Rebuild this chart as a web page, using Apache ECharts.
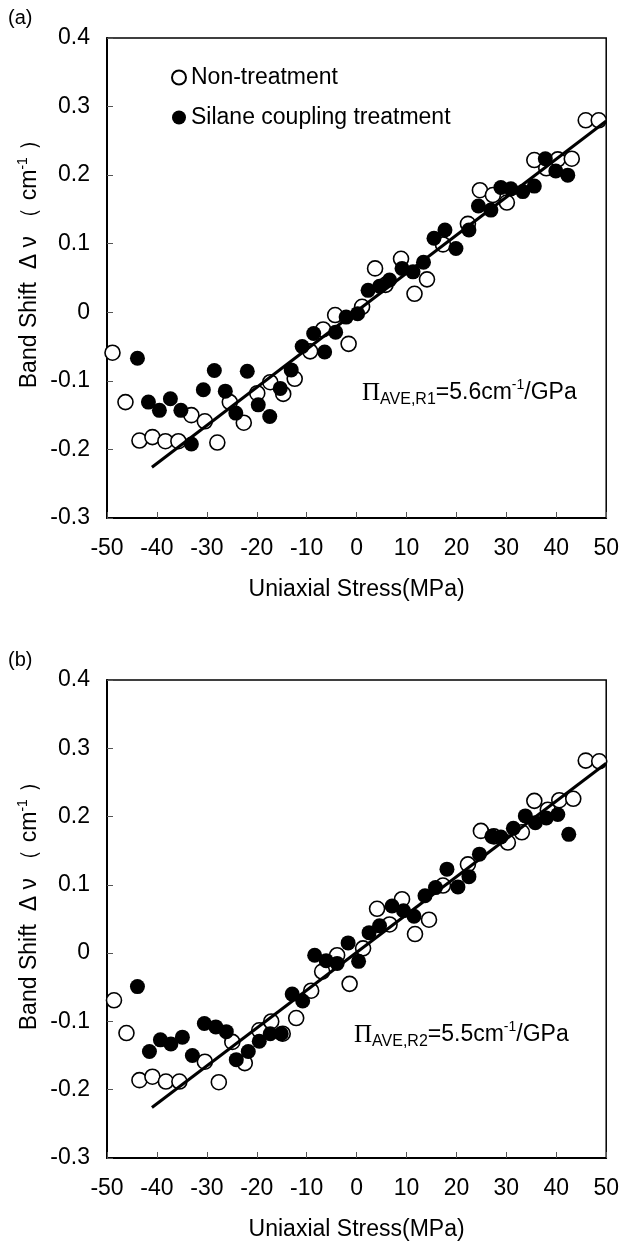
<!DOCTYPE html>
<html>
<head>
<meta charset="utf-8">
<script src="https://cdn.jsdelivr.net/npm/echarts@6/dist/echarts.min.js"></script>
<style>
html,body{margin:0;padding:0;background:#fff;}
#chart{width:622px;height:1242px;}
</style>
</head>
<body>
<div id="chart"></div>
<script>
// ---- Data ----
const xTicks = [-50, 50, 10];      // min, max, interval (MPa)
const yTicks = [-0.3, 0.4, 0.1];   // min, max, interval (cm-1)

// (a) Non-treatment (open circles)
const aOpen = [[-48.9,-0.059],[-46.3,-0.131],[-43.5,-0.187],[-40.9,-0.182],[-38.3,-0.188],[-35.7,-0.188],[-33.1,-0.150],[-30.4,-0.159],[-27.9,-0.190],[-25.4,-0.131],[-22.6,-0.161],[-19.9,-0.118],[-17.3,-0.102],[-14.7,-0.119],[-12.4,-0.097],[-9.3,-0.057],[-6.7,-0.025],[-4.3,-0.004],[-1.6,-0.046],[1.1,0.008],[3.7,0.064],[5.8,0.040],[8.9,0.078],[11.6,0.027],[14.1,0.048],[17.3,0.099],[22.3,0.129],[24.7,0.178],[27.3,0.171],[30.1,0.160],[35.6,0.222],[38.0,0.210],[40.3,0.223],[43.1,0.224],[45.9,0.280],[48.5,0.280]];
// (a) Silane coupling treatment (filled circles)
const aFilled = [[-43.9,-0.067],[-41.7,-0.131],[-39.5,-0.143],[-37.3,-0.126],[-35.2,-0.143],[-33.1,-0.192],[-30.7,-0.113],[-28.5,-0.085],[-26.3,-0.115],[-24.2,-0.147],[-21.9,-0.086],[-19.7,-0.135],[-17.4,-0.152],[-15.3,-0.111],[-13.1,-0.084],[-10.9,-0.050],[-8.6,-0.031],[-6.4,-0.058],[-4.2,-0.029],[-2.1,-0.007],[0.2,-0.002],[2.3,0.032],[4.6,0.038],[6.6,0.047],[9.1,0.064],[11.3,0.059],[13.4,0.073],[15.5,0.108],[17.7,0.120],[19.9,0.093],[22.5,0.120],[24.4,0.155],[26.9,0.149],[28.9,0.182],[30.9,0.180],[33.3,0.176],[35.6,0.184],[37.8,0.224],[39.9,0.206],[42.3,0.200]];
// (a) fit line end points
const aFit = [[-41,-0.226],[50,0.279]];

// (b) Non-treatment (open circles)
const bOpen = [[-48.6,-0.069],[-46.1,-0.117],[-43.5,-0.186],[-40.9,-0.181],[-38.2,-0.188],[-35.5,-0.188],[-30.4,-0.159],[-27.6,-0.189],[-24.9,-0.130],[-22.4,-0.161],[-19.5,-0.113],[-17.1,-0.100],[-14.8,-0.118],[-12.1,-0.095],[-9.1,-0.055],[-6.9,-0.027],[-3.9,-0.003],[-1.4,-0.045],[1.3,0.007],[4.1,0.065],[6.6,0.042],[9.1,0.079],[11.7,0.028],[14.5,0.049],[17.3,0.099],[22.3,0.130],[24.9,0.179],[27.5,0.171],[30.3,0.162],[33.1,0.177],[35.6,0.223],[38.3,0.210],[40.6,0.224],[43.4,0.226],[45.9,0.282],[48.6,0.281]];
// (b) Silane coupling treatment (filled circles)
const bFilled = [[-43.9,-0.049],[-41.5,-0.144],[-39.3,-0.127],[-37.2,-0.133],[-34.9,-0.123],[-32.9,-0.150],[-30.5,-0.103],[-28.2,-0.108],[-26.1,-0.115],[-24.1,-0.156],[-21.7,-0.144],[-19.5,-0.129],[-17.3,-0.118],[-15.1,-0.118],[-12.9,-0.060],[-10.8,-0.070],[-8.4,-0.003],[-6.1,-0.011],[-3.9,-0.015],[-1.7,0.015],[0.4,-0.012],[2.5,0.030],[4.6,0.040],[7.1,0.069],[9.4,0.062],[11.5,0.054],[13.7,0.084],[15.8,0.096],[18.1,0.123],[20.3,0.097],[22.5,0.112],[24.6,0.145],[27.1,0.171],[28.9,0.170],[31.4,0.183],[33.8,0.201],[35.8,0.191],[38.0,0.198],[40.3,0.203],[42.5,0.174]];
// (b) fit line end points
const bFit = [[-41,-0.226],[50,0.278]];

const seriesNames = ['Non-treatment', 'Silane coupling treatment'];
const xName = 'Uniaxial Stress(MPa)';
const panelLabels = ['(a)', '(b)'];
const slopeLabels = [['AVE,R1', '5.6'], ['AVE,R2', '5.5']];

// ---- Chart ----
const FONT = '"Liberation Sans", Arial, sans-serif';
const FS = 23;
const chart = echarts.init(document.getElementById('chart'), null, {renderer: 'canvas'});

const gridTops = [38, 680];
const grids = gridTops.map(t => ({left: 107, top: t, width: 500, height: 480, show: true, borderColor: '#000', borderWidth: 1.5, backgroundColor: 'transparent'}));

function xAxis(i) {
  return {
    type: 'value', gridIndex: i, min: xTicks[0], max: xTicks[1], interval: xTicks[2],
    name: xName, nameLocation: 'middle', nameGap: 60,
    nameTextStyle: {fontFamily: FONT, fontSize: FS, color: '#000'},
    axisLine: {show: true, onZero: false, lineStyle: {color: '#000', width: 2}},
    axisTick: {show: true, inside: true, length: 6, lineStyle: {color: '#555', width: 1}},
    axisLabel: {fontFamily: FONT, fontSize: FS, color: '#000', margin: 19},
    splitLine: {show: false}
  };
}
function yAxis(i) {
  return {
    type: 'value', gridIndex: i, min: yTicks[0], max: yTicks[1], interval: yTicks[2],
    axisLine: {show: true, onZero: false, lineStyle: {color: '#000', width: 2}},
    axisTick: {show: true, inside: true, length: 6, lineStyle: {color: '#555', width: 1}},
    axisLabel: {fontFamily: FONT, fontSize: FS, color: '#000', margin: 17,
      formatter: v => (Math.abs(v) < 1e-9 ? '0' : v.toFixed(1))},
    splitLine: {show: false}
  };
}

const openStyle = {color: '#fff', borderColor: '#000', borderWidth: 1.6, opacity: 1};
const filledStyle = {color: '#000', borderColor: '#000', borderWidth: 0, opacity: 1};
const SYM = 15;

function panelSeries(i, open, filled, fit) {
  return [
    {name: seriesNames[0], type: 'scatter', xAxisIndex: i, yAxisIndex: i, data: open, symbol: 'circle', symbolSize: SYM, itemStyle: openStyle, emphasis: {disabled: true}},
    {name: seriesNames[1], type: 'scatter', xAxisIndex: i, yAxisIndex: i, data: filled, symbol: 'circle', symbolSize: SYM, itemStyle: filledStyle, emphasis: {disabled: true}},
    {name: 'fit' + i, type: 'line', xAxisIndex: i, yAxisIndex: i, data: fit, showSymbol: false, lineStyle: {color: '#000', width: 3, opacity: 1}, emphasis: {disabled: true}}
  ];
}

const yNameRich = {
  base: {fontFamily: FONT, fontSize: FS, color: '#000', lineHeight: 28},
  sup: {fontFamily: FONT, fontSize: 14, color: '#000', verticalAlign: 'top', lineHeight: 28}
};
function yNameText(cy) {
  return {type: 'text', x: 30, y: cy, rotation: Math.PI / 2,
    style: {text: '{base|Band Shift  Δ ν （ cm}{sup|-1}{base| ）}', rich: yNameRich, align: 'center', verticalAlign: 'middle'}};
}
const slopeRich = {
  pi: {fontFamily: '"Liberation Serif", "Times New Roman", serif', fontSize: 25, color: '#000', lineHeight: 30, verticalAlign: 'middle'},
  sub: {fontFamily: FONT, fontSize: 16, color: '#000', lineHeight: 30, verticalAlign: 'bottom'},
  base: {fontFamily: FONT, fontSize: FS, color: '#000', lineHeight: 30, verticalAlign: 'middle'},
  sup: {fontFamily: FONT, fontSize: 14, color: '#000', lineHeight: 30, verticalAlign: 'top'}
};
function slopeText(x, cy, s) {
  return {type: 'text', x: x, y: cy,
    style: {text: '{pi|Π}{sub|' + s[0] + '}{base|=' + s[1] + 'cm}{sup|-1}{base|/GPa}', rich: slopeRich, align: 'left', verticalAlign: 'middle'}};
}

const option = {
  backgroundColor: '#fff',
  animation: false,
  grid: grids,
  xAxis: [xAxis(0), xAxis(1)],
  yAxis: [yAxis(0), yAxis(1)],
  legend: {
    data: seriesNames, orient: 'vertical', left: 171, top: 66, padding: 0,
    itemWidth: 14, itemHeight: 14, itemGap: 17,
    textStyle: {fontFamily: FONT, fontSize: FS, color: '#000'},
    selectedMode: false
  },
  graphic: [
    {type: 'text', x: 8, y: 18, style: {text: panelLabels[0], fontFamily: FONT, fontSize: 20, fill: '#000', verticalAlign: 'middle'}},
    {type: 'text', x: 8, y: 660, style: {text: panelLabels[1], fontFamily: FONT, fontSize: 20, fill: '#000', verticalAlign: 'middle'}},
    yNameText(258),
    yNameText(900),
    slopeText(362, 393, slopeLabels[0]),
    slopeText(354, 1035, slopeLabels[1])
  ],
  series: [].concat(panelSeries(0, aOpen, aFilled, aFit), panelSeries(1, bOpen, bFilled, bFit))
};
chart.setOption(option);
</script>
</body>
</html>
